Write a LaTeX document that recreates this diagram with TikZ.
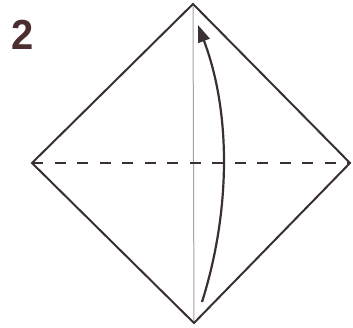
\documentclass[tikz,border=0pt]{standalone}
\usepackage{fontspec}
\setmainfont{Liberation Sans}
\usetikzlibrary{arrows.meta}
\definecolor{ink}{HTML}{3A3034}
\definecolor{numink}{HTML}{4A2E30}
\definecolor{crease}{HTML}{A8A2A4}
\begin{document}
\begin{tikzpicture}[x=1pt,y=-1pt,
  edge/.style={draw=ink,line width=2pt,line join=miter},
  creaseline/.style={draw=crease,line width=1pt},
  valley/.style={draw=ink,line width=2pt,dash pattern=on 11pt off 11.5pt},
  foldarrow/.style={draw=ink,line width=2.2pt,-{Triangle[length=17pt,width=12pt]}},
  steplabel/.style={font=\bfseries\fontsize{42}{42}\selectfont,text=numink,inner sep=0pt,xscale=0.95}]
\useasboundingbox[fill=white] (0,0) rectangle (353,328);
\coordinate (T) at (193,4);
\coordinate (R) at (350,163);
\coordinate (B) at (194,323);
\coordinate (L) at (32,163);
\coordinate (A0) at (202,302);
\coordinate (A1) at (198,25);
\draw[creaseline] (T) -- (B);
\draw[valley] (L) -- (R);
\draw[edge] (T) -- (R) -- (B) -- (L) -- cycle;
\draw[foldarrow] (A0) .. controls (231,210) and (231,112) .. (A1);
\node[steplabel] (num) at (22.5,35) {2};
\end{tikzpicture}
\end{document}
